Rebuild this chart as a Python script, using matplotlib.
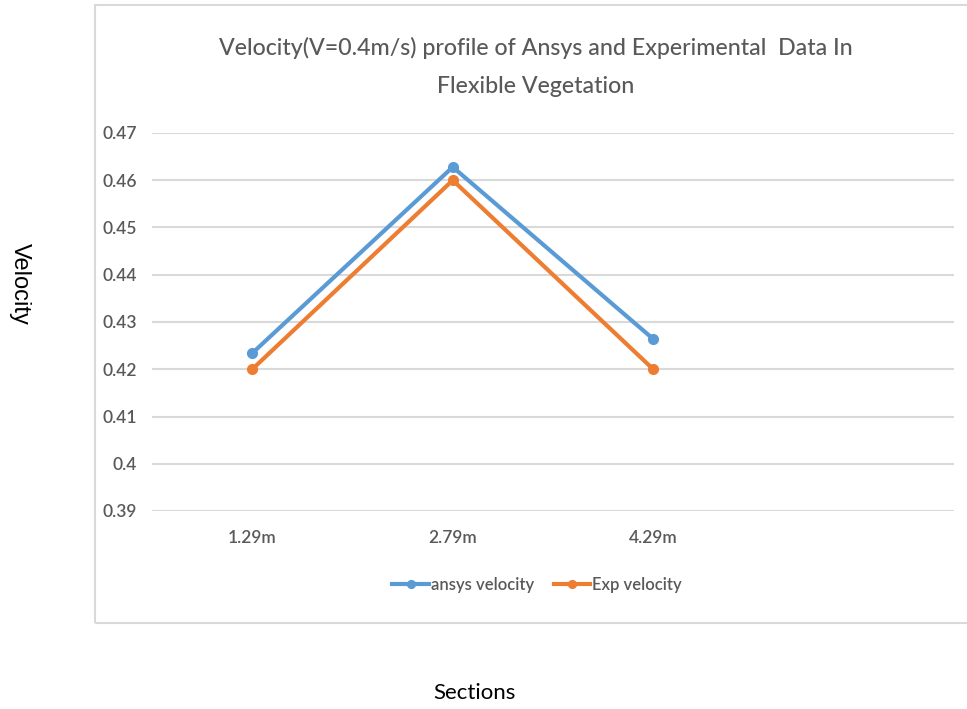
import matplotlib
matplotlib.use('Agg')
import matplotlib.pyplot as plt
from matplotlib.patches import Rectangle

plt.rcParams['font.family'] = ['Lato', 'DejaVu Sans']

# data
sections = ['1.29m', '2.79m', '4.29m', '']
ansys_velocity = [0.4234, 0.4628, 0.4264]
exp_velocity = [0.42, 0.46, 0.42]
y_ticks = [0.39, 0.4, 0.41, 0.42, 0.43, 0.44, 0.45, 0.46, 0.47]
y_tick_labels = ['0.39', '0.4', '0.41', '0.42', '0.43', '0.44', '0.45', '0.46', '0.47']

blue = '#5B9BD5'
orange = '#ED7D31'
text_grey = '#595959'
grid_grey = '#D9D9D9'

fig = plt.figure(figsize=(9.67, 7.09), dpi=100)

# chart border box (Excel style)
W, H = 967, 709
fig.patches.append(Rectangle((95 / W, 1 - 623 / H), 1.0, (623 - 5) / H,
                             transform=fig.transFigure, fill=False,
                             edgecolor=grid_grey, linewidth=1.5))

ax = fig.add_axes([152 / W, 1 - 511 / H, (954 - 152) / W, (511 - 133) / H])

x = list(range(len(ansys_velocity)))
ax.plot(x, ansys_velocity, color=blue, lw=3, marker='o', ms=7,
        label='ansys velocity', zorder=3)
ax.plot(x, exp_velocity, color=orange, lw=3, marker='o', ms=7,
        label='Exp velocity', zorder=3)

ax.set_ylim(0.39, 0.47)
ax.set_xlim(-0.5, 3.5)
ax.set_yticks(y_ticks)
ax.set_yticklabels(y_tick_labels)
ax.set_xticks(range(len(sections)))
ax.set_xticklabels(sections)
ax.grid(axis='y', color=grid_grey, lw=1.5)
ax.set_axisbelow(True)
for s in ax.spines.values():
    s.set_visible(False)
ax.tick_params(axis='both', length=0, labelsize=12.5, labelcolor=text_grey)
ax.tick_params(axis='y', pad=11)
ax.tick_params(axis='x', pad=14)
for lab in ax.get_xticklabels() + ax.get_yticklabels():
    lab.set_fontweight('semibold')

fig.text(536 / W, 1 - 66.5 / H,
         'Velocity(V=0.4m/s) profile of Ansys and Experimental  Data In\nFlexible Vegetation',
         ha='center', va='center', fontsize=16.7, color=text_grey,
         linespacing=2.0, fontweight='medium')

leg = ax.legend(loc='center', bbox_to_anchor=(537 / W, 1 - 585 / H),
                bbox_transform=fig.transFigure, ncol=2, frameon=False,
                fontsize=12, labelcolor=text_grey, handlelength=2.2,
                handletextpad=0.1, columnspacing=1.2, markerscale=0.8)
for t in leg.get_texts():
    t.set_fontweight('semibold')

fig.text(20 / W, 1 - 284 / H, 'Velocity', rotation=270, ha='center',
         va='center', fontsize=17, color='black', family='Liberation Sans')
fig.text(474 / W, 1 - 693 / H, 'Sections', ha='center', va='center',
         fontsize=16, color='black')

fig.savefig('out.png', dpi=100)
